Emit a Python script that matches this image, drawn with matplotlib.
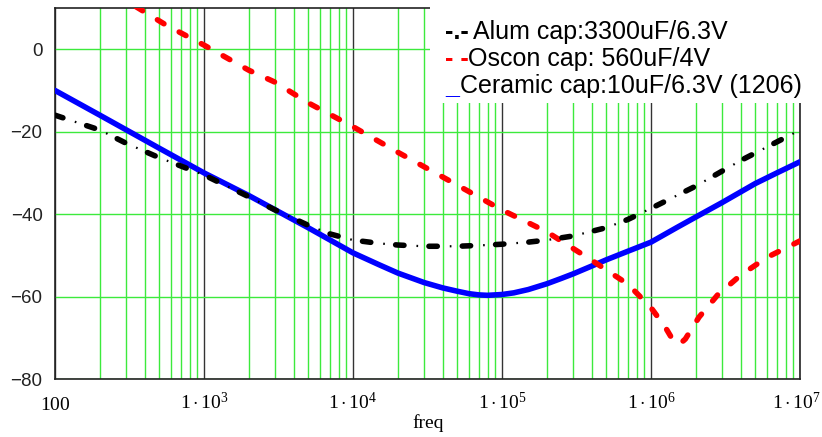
import matplotlib
matplotlib.use("Agg")
import matplotlib.pyplot as plt
from matplotlib.ticker import LogLocator, NullFormatter, FixedLocator
from matplotlib.patches import Rectangle
from matplotlib.transforms import ScaledTranslation

# ---- data ----
alum_f = [100, 200, 300, 500, 1e3, 2e3, 3e3, 5e3, 7e3, 1e4, 1.5e4, 2e4, 3e4, 5e4, 7e4, 1e5,
          1.5e5, 2e5, 3e5, 5e5, 7e5, 1e6, 2e6, 4e6, 1e7]
alum_db = [-16, -19.6, -22.8, -26.3, -30.5, -35.8, -39, -42.7, -44.8, -46.3, -47.1, -47.5, -47.8, -47.8, -47.6, -47.3,
           -46.8, -46.3, -45.3, -43.3, -41.3, -38.6, -33.2, -27, -19.6]

oscon_f = [350, 560, 1e3, 2e3, 3e3, 5e3, 1e4, 2e4, 4e4, 1e5, 2e5, 4e5, 7e5, 1e6, 1.25e6, 1.4e6,
           1.55e6, 1.7e6, 1.9e6, 2.1e6, 2.8e6, 4e6, 6e6, 1e7]
oscon_db = [10.3, 5.8, 1, -5.1, -8, -13, -18.8, -25, -31, -39, -44.3, -51.2, -57, -62.7, -67.5, -70.5,
            -71.6, -70.3, -67.5, -65, -59.6, -54.8, -50.5, -46.5]

ceramic_f = [100, 200, 500, 1e3, 2e3, 5e3, 1e4, 1.5e4, 2e4, 3e4, 4e4, 5e4, 6e4, 7e4, 8e4, 1e5, 1.2e5,
             1.5e5, 2e5, 2.5e5, 3e5, 4e5, 5e5, 7e5, 1e6, 1.5e6, 2e6, 3e6, 5e6, 7e6, 1e7]
ceramic_db = [-10, -16, -24, -30, -35.5, -43.3, -49.4, -52.3, -54.3, -56.6, -57.9, -58.7, -59.3, -59.6, -59.7, -59.5, -59.1,
              -58.3, -56.9, -55.6, -54.5, -52.6, -51.1, -49, -46.8, -43.2, -40.7, -37.2, -32.6, -30, -27.3]

xticks = [100, 1e3, 1e4, 1e5, 1e6, 1e7]
xticklabels = [r"$100$", r"$1\cdot10^{3}$", r"$1\cdot10^{4}$", r"$1\cdot10^{5}$", r"$1\cdot10^{6}$", r"$1\cdot10^{7}$"]
yticks = [-80, -60, -40, -20, 0]
yticklabels = ["\u221280", "\u221260", "\u221240", "\u221220", "0"]

legend_prefix = ["-.-", "- -", "_"]
legend_text = ["Alum cap:3300uF/6.3V", "Oscon cap: 560uF/4V", "Ceramic cap:10uF/6.3V (1206)"]

# ---- style ----
plt.rcParams["mathtext.fontset"] = "custom"
plt.rcParams["mathtext.rm"] = "Liberation Serif"
plt.rcParams["mathtext.it"] = "Liberation Serif:italic"
plt.rcParams["lines.scale_dashes"] = False

W, H = 822, 437
fig = plt.figure(figsize=(W / 100, H / 100), dpi=100)
L, R, T, B = 55, 800, 8, 379
ax = fig.add_axes([L / W, 1 - B / H, (R - L) / W, (B - T) / H])

GREEN = "#3cea3c"
ax.set_xscale("log")
ax.set_xlim(100, 1e7)
ax.set_ylim(-80, 10)

ax.xaxis.set_major_locator(FixedLocator(xticks))
ax.xaxis.set_minor_locator(LogLocator(base=10, subs=[2, 3, 4, 5, 6, 7, 8, 9], numticks=50))
ax.xaxis.set_minor_formatter(NullFormatter())
ax.set_xticklabels(xticklabels, fontsize=14)
ax.set_yticks(yticks)
ax.set_yticklabels(yticklabels, fontsize=13.5, family="Liberation Sans", color="#222222")

ax.xaxis.grid(True, which="minor", color=GREEN, lw=1.0, zorder=1)
ax.xaxis.grid(True, which="major", color="#333333", lw=1.0, zorder=1)
ax.yaxis.grid(True, which="major", color=GREEN, lw=1.0, zorder=1)
ax.set_axisbelow(True)
ax.tick_params(which="both", length=0)
ax.tick_params(axis="x", pad=22)
ax.tick_params(axis="y", pad=9)
xlabs = ax.get_xticklabels()
for lab in xlabs:
    lab.set_verticalalignment("baseline")
xlabs[-1].set_transform(xlabs[-1].get_transform() + ScaledTranslation(-4 / 100, 0, fig.dpi_scale_trans))
for s in ax.spines.values():
    s.set_color("#222222")
    s.set_linewidth(1.2)

# legend white box
ax.add_patch(Rectangle((0.503, 0.744), 0.505, 0.27, transform=ax.transAxes,
                       facecolor="white", edgecolor="none", zorder=3, clip_on=False))

# ---- curves ----
ax.plot(ceramic_f, ceramic_db, color="#0000ff", lw=4.0, solid_capstyle="round",
        solid_joinstyle="round", zorder=4)
ax.plot(oscon_f, oscon_db, color="#ff0000", lw=4.0, linestyle=(0, (5.5, 12.5)),
        dash_capstyle="round", dash_joinstyle="round", zorder=4)
ax.plot(alum_f, alum_db, color="black", lw=4.0, linestyle=(0, (6, 18)), dash_capstyle="round", zorder=4)
ax.plot(alum_f, alum_db, color="black", lw=1.6, linestyle=(9, (1.2, 22.8)), zorder=4)

# ---- legend text ----
ys = [32, 59, 86]
prefix_colors = ["black", "red", "blue"]
text_x = [473, 468, 460]
for y, p, c, t, tx in zip(ys, legend_prefix, prefix_colors, legend_text, text_x):
    fig.text(445 / W, 1 - y / H, p, color=c, fontsize=18, family="Liberation Sans",
             fontweight="bold", va="center", ha="left", zorder=6)
    fig.text(tx / W, 1 - y / H, t, color="black", fontsize=18, family="Liberation Sans",
             va="center", ha="left", zorder=6)

fig.text(428 / W, 1 - 423 / H, "freq", fontsize=14, family="Liberation Serif",
         va="center", ha="center")

fig.savefig("out.png", dpi=100)
